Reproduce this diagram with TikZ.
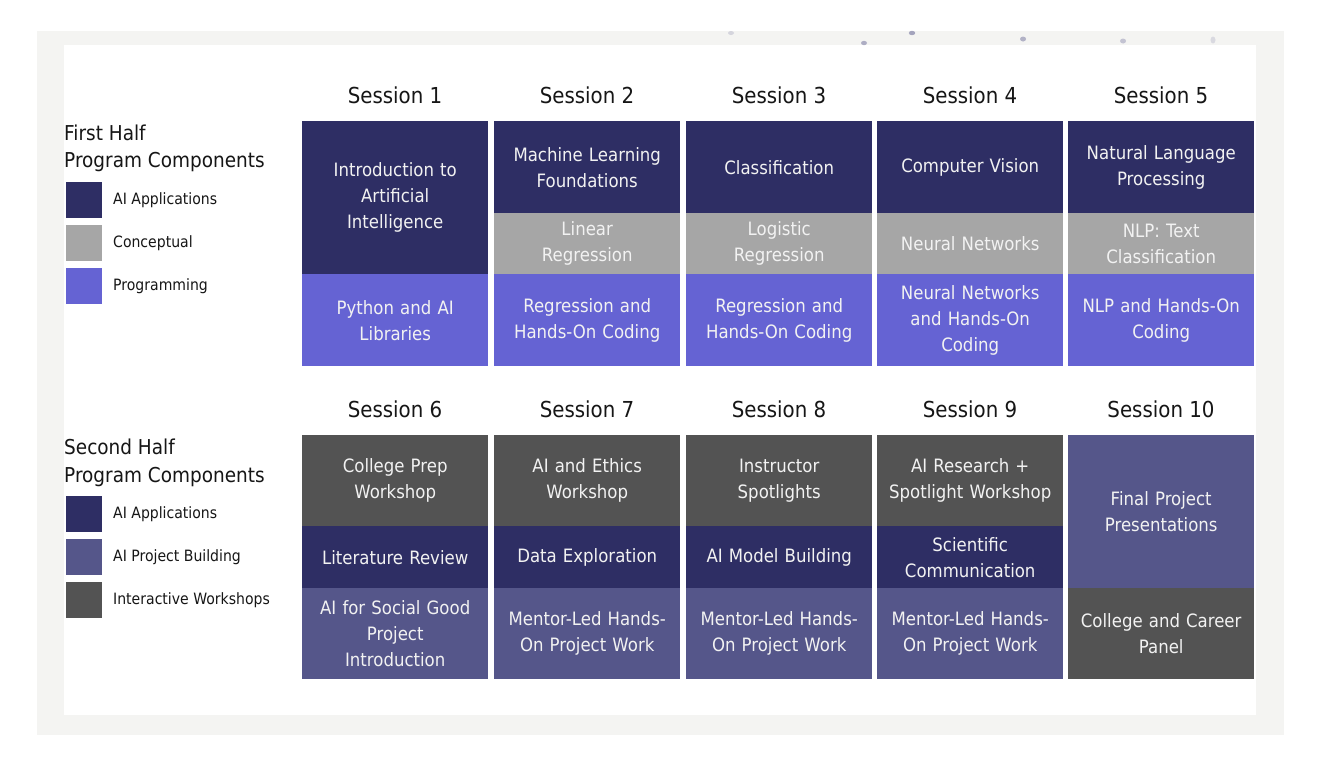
\documentclass[tikz,border=0pt]{standalone}
\usepackage{fontspec}
\setmainfont[FakeStretch=0.9]{DejaVu Sans}
\definecolor{bggray}{HTML}{F4F4F2}
\definecolor{navy}{HTML}{2E2E64}
\definecolor{prog}{HTML}{6563D3}
\definecolor{concept}{HTML}{A6A6A6}
\definecolor{proj}{HTML}{55568A}
\definecolor{work}{HTML}{535353}
\definecolor{cellfg}{HTML}{F2F2F2}
\definecolor{headfg}{HTML}{161616}
\definecolor{dotc}{HTML}{9C9CB8}
\tikzset{
  cell/.style={anchor=north west, inner sep=0pt, minimum width=186pt, minimum height=#1,
    text width=178pt, align=center, text=cellfg, font=\fontsize{18.4}{26}\selectfont},
  sess/.style={anchor=center, inner sep=0pt, text=headfg, font=\fontsize{22}{26}\selectfont},
  ltitle/.style={anchor=west, inner sep=0pt, text=headfg, font=\fontsize{20.5}{24}\selectfont},
  lsq/.style={anchor=north west, inner sep=0pt, minimum width=36pt, minimum height=36pt},
  llab/.style={anchor=west, inner sep=0pt, text=headfg, font=\fontsize{15.6}{18}\selectfont},
  speck/.style={fill=dotc, draw=none}
}
\begin{document}
\begin{tikzpicture}[x=1pt,y=-1pt]
\useasboundingbox (0,0) rectangle (1317,772);
\fill[white] (0,0) rectangle (1317,772);
\fill[bggray] (37,31) rectangle (1284,735);
\fill[white] (64,45) rectangle (1256,715);
% faint specks along the top edge
\fill[speck, opacity=0.35] (731,33) ellipse (3 and 2);
\fill[speck, opacity=0.8] (864,43) ellipse (3 and 2.2);
\fill[speck, opacity=0.9] (912,33) ellipse (3.2 and 2.2);
\fill[speck, opacity=0.75] (1023,39) ellipse (3 and 2.5);
\fill[speck, opacity=0.55] (1123,41) ellipse (3 and 2.5);
\fill[speck, opacity=0.3] (1213,40) ellipse (2.5 and 3.5);

% ---------- first half legend ----------
\node[ltitle] (t1a) at (64,133) {First Half};
\node[ltitle] (t1b) at (64,162) {Program Components};
\node[lsq, fill=navy] (l1a) at (66,182) {};
\node[lsq, fill=concept] (l1b) at (66,225) {};
\node[lsq, fill=prog] (l1c) at (66,268) {};
\node[llab] (m1a) at (113,200) {AI Applications};
\node[llab] (m1b) at (113,243) {Conceptual};
\node[llab] (m1c) at (113,286) {Programming};

% ---------- second half legend ----------
\node[ltitle] (t2a) at (64,447) {Second Half};
\node[ltitle] (t2b) at (64,477) {Program Components};
\node[lsq, fill=navy] (l2a) at (66,496) {};
\node[lsq, fill=proj] (l2b) at (66,539) {};
\node[lsq, fill=work] (l2c) at (66,582) {};
\node[llab] (m2a) at (113,514) {AI Applications};
\node[llab] (m2b) at (113,557) {AI Project Building};
\node[llab] (m2c) at (113,600) {Interactive Workshops};

% ---------- session headers ----------
\node[sess] (s1) at (395,95) {Session 1};
\node[sess] (s2) at (587,95) {Session 2};
\node[sess] (s3) at (779,95) {Session 3};
\node[sess] (s4) at (970,95) {Session 4};
\node[sess] (s5) at (1161,95) {Session 5};
\node[sess] (s6) at (395,409) {Session 6};
\node[sess] (s7) at (587,409) {Session 7};
\node[sess] (s8) at (779,409) {Session 8};
\node[sess] (s9) at (970,409) {Session 9};
\node[sess] (s10) at (1161,409) {Session 10};

% ---------- first half cells ----------
\node[cell=153pt, fill=navy] (c1a) at (302,121) {Introduction to\\Artificial\\Intelligence};
\node[cell=92pt, fill=prog] (c1b) at (302,274) {Python and AI\\Libraries};

\node[cell=92pt, fill=navy] (c2a) at (494,121) {Machine Learning\\Foundations};
\node[cell=61pt, fill=concept] (c2b) at (494,213) {Linear\\Regression};
\node[cell=92pt, fill=prog] (c2c) at (494,274) {Regression and\\Hands-On Coding};

\node[cell=92pt, fill=navy] (c3a) at (686,121) {Classification};
\node[cell=61pt, fill=concept] (c3b) at (686,213) {Logistic\\Regression};
\node[cell=92pt, fill=prog] (c3c) at (686,274) {Regression and\\Hands-On Coding};

\node[cell=92pt, fill=navy] (c4a) at (877,121) {Computer Vision};
\node[cell=61pt, fill=concept] (c4b) at (877,213) {Neural Networks};
\node[cell=92pt, fill=prog] (c4c) at (877,274) {Neural Networks\\and Hands-On\\Coding};

\node[cell=92pt, fill=navy] (c5a) at (1068,121) {Natural Language\\Processing};
\node[cell=61pt, fill=concept] (c5b) at (1068,213) {NLP: Text\\Classification};
\node[cell=92pt, fill=prog] (c5c) at (1068,274) {NLP and Hands-On\\Coding};

% ---------- second half cells ----------
\node[cell=91pt, fill=work] (c6a) at (302,435) {College Prep\\Workshop};
\node[cell=62pt, fill=navy] (c6b) at (302,526) {Literature Review};
\node[cell=91pt, fill=proj] (c6c) at (302,588) {AI for Social Good\\Project\\Introduction};

\node[cell=91pt, fill=work] (c7a) at (494,435) {AI and Ethics\\Workshop};
\node[cell=62pt, fill=navy] (c7b) at (494,526) {Data Exploration};
\node[cell=91pt, fill=proj] (c7c) at (494,588) {Mentor-Led Hands-\\On Project Work};

\node[cell=91pt, fill=work] (c8a) at (686,435) {Instructor\\Spotlights};
\node[cell=62pt, fill=navy] (c8b) at (686,526) {AI Model Building};
\node[cell=91pt, fill=proj] (c8c) at (686,588) {Mentor-Led Hands-\\On Project Work};

\node[cell=91pt, fill=work] (c9a) at (877,435) {AI Research +\\Spotlight Workshop};
\node[cell=62pt, fill=navy] (c9b) at (877,526) {Scientific\\Communication};
\node[cell=91pt, fill=proj] (c9c) at (877,588) {Mentor-Led Hands-\\On Project Work};

\node[cell=153pt, fill=proj] (c10a) at (1068,435) {Final Project\\Presentations};
\node[cell=91pt, fill=work] (c10b) at (1068,588) {College and Career\\Panel};
\end{tikzpicture}
\end{document}
